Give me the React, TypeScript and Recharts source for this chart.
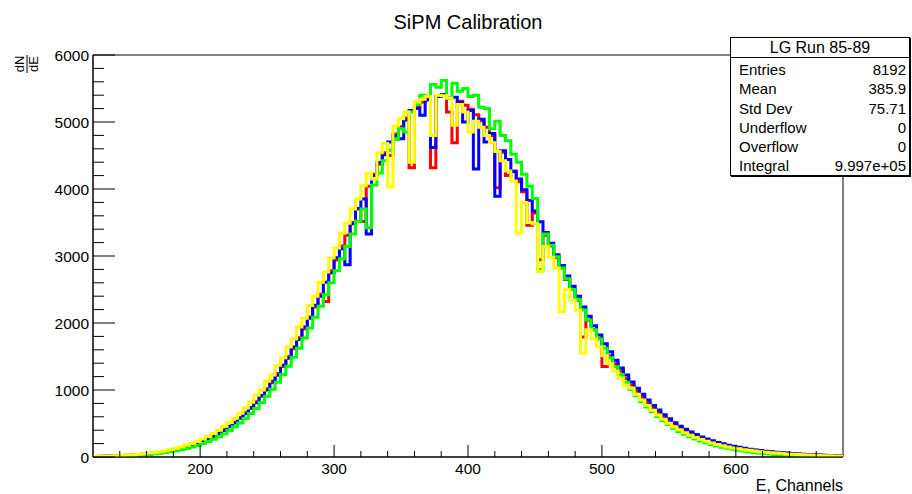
import React from "react";
import { LineChart, Line, XAxis, YAxis, ReferenceArea } from "recharts";

// histogram binning: 4-channel bins from 120 to 680
const binStart = 120;
const binWidth = 4;
const xMax = 680;

const red = [
  7, 10, 11, 13, 16, 20, 23, 29, 34, 40,
  49, 59, 67, 81, 95, 112, 128, 151, 178, 200,
  236, 265, 310, 348, 405, 450, 520, 575, 660, 725,
  825, 905, 1020, 1110, 1245, 1350, 1500, 1615, 1780, 1915,
  2090, 2240, 2430, 2320, 2780, 2940, 3150, 3310, 3500, 3700,
  3515, 4040, 4220, 4370, 4540, 4500, 4820, 4930, 5060, 4316,
  5220, 5300, 5340, 4316, 5390, 5400, 5150, 4690, 5310, 5250,
  5190, 5110, 5020, 4920, 4800, 4020, 4550, 4200, 4270, 4110,
  3960, 3460, 3640, 2945, 3310, 3150, 2975, 2820, 2650, 2500,
  2340, 1790, 2040, 1900, 1770, 1350, 1510, 1390, 1285, 1170,
  1075, 980, 890, 810, 735, 660, 595, 535, 480, 428,
  392, 352, 316, 284, 254, 228, 206, 186, 168, 152,
  138, 124, 112, 101, 92, 83, 75, 67, 61, 55,
  49, 44, 39, 35, 31, 27, 24, 21, 18, 16,
];

const blue = [
  8, 9, 12, 14, 17, 21, 25, 30, 35, 42,
  50, 57, 70, 82, 96, 110, 131, 152, 172, 205,
  230, 272, 303, 356, 396, 460, 508, 585, 645, 740,
  808, 918, 1000, 1130, 1220, 1370, 1475, 1640, 1755, 1940,
  2070, 2265, 2400, 2610, 2750, 2975, 3110, 2870, 3480, 3710,
  3850, 3330, 4200, 4395, 4510, 4700, 4790, 4750, 5030, 5170,
  5200, 5100, 5330, 4620, 5380, 5410, 5360, 5370, 5290, 5000,
  5170, 4300, 5040, 4700, 4830, 3890, 4570, 4440, 4260, 4150,
  3990, 3830, 3670, 3510, 3350, 3190, 3020, 2860, 2700, 2550,
  2400, 2240, 2100, 1960, 1820, 1690, 1570, 1445, 1330, 1225,
  1120, 1025, 935, 850, 770, 700, 630, 570, 510, 458,
  415, 372, 335, 300, 268, 242, 218, 196, 177, 160,
  145, 130, 117, 106, 96, 87, 79, 71, 64, 58,
  52, 46, 41, 36, 32, 28, 25, 22, 19, 17,
];

const green = [
  5, 7, 9, 11, 13, 16, 19, 24, 28, 33,
  40, 47, 56, 66, 79, 92, 108, 127, 148, 172,
  200, 230, 265, 302, 345, 395, 450, 508, 575, 650,
  725, 815, 905, 1010, 1115, 1230, 1355, 1490, 1625, 1775,
  1925, 2085, 2250, 2420, 2600, 2780, 2960, 3140, 3330, 3520,
  3700, 3420, 4060, 4240, 4420, 4580, 4740, 4900, 4850, 5150,
  5260, 5400, 5380, 5560, 5520, 5620, 5350, 5580, 5460, 5500,
  5380, 5400, 5220, 5200, 4900, 5010, 4800, 4720, 4520, 4400,
  4220, 4040, 3860, 2800, 3330, 3160, 2990, 2820, 2660, 2500,
  2350, 2195, 2045, 1900, 1760, 1625, 1480, 1350, 1230, 1115,
  1010, 915, 828, 748, 676, 606, 542, 484, 430, 382,
  340, 303, 270, 240, 213, 188, 166, 147, 130, 114,
  100, 88, 77, 67, 59, 52, 45, 39, 34, 30,
  26, 22, 19, 16, 14, 12, 10, 9, 8, 7,
];

const yellow = [
  9, 11, 13, 16, 20, 24, 28, 34, 41, 48,
  58, 68, 80, 94, 111, 129, 150, 175, 202, 233,
  268, 307, 351, 400, 454, 514, 579, 652, 731, 817,
  920, 1000, 1130, 1225, 1370, 1480, 1640, 1760, 1940, 2070,
  2260, 2400, 2610, 2760, 2970, 3120, 3340, 3490, 3700, 3850,
  4050, 4230, 4150, 4540, 4680, 4030, 4940, 5050, 5150, 4400,
  5300, 5340, 5380, 4800, 5400, 5390, 5360, 4950, 5260, 5150,
  4850, 5010, 4920, 4800, 4690, 4560, 4420, 4270, 4120, 3340,
  3800, 3500, 3480, 2770, 3140, 2980, 2820, 2170, 2500, 2340,
  2190, 1550, 1900, 1765, 1640, 1510, 1390, 1280, 1175, 1070,
  1030, 935, 850, 770, 698, 628, 565, 505, 452, 405,
  362, 325, 292, 262, 234, 210, 188, 168, 151, 136,
  122, 110, 99, 89, 80, 72, 64, 58, 52, 46,
  41, 37, 33, 29, 26, 23, 20, 18, 16, 14,
];

const xMajor = [200, 300, 400, 500, 600];
const xTicks = [140, 160, 180, 200, 220, 240, 260, 280, 300, 320, 340, 360, 380, 400, 420, 440, 460, 480, 500, 520, 540, 560, 580, 600, 620, 640, 660];
const yMajor = [0, 1000, 2000, 3000, 4000, 5000, 6000];
const yTicks = [0, 200, 400, 600, 800, 1000, 1200, 1400, 1600, 1800, 2000, 2200, 2400, 2600, 2800, 3000, 3200, 3400, 3600, 3800, 4000, 4200, 4400, 4600, 4800, 5000, 5200, 5400, 5600, 5800, 6000];

const statsTitle = "LG Run 85-89";
const statsLabels = ["Entries", "Mean", "Std Dev", "Underflow", "Overflow", "Integral"];
const statsValues = ["8192", "385.9", "75.71", "0", "0", "9.997e+05"];

const data = red.map((_, i) => ({
  c: binStart + i * binWidth,
  red: red[i],
  blue: blue[i],
  green: green[i],
  yellow: yellow[i],
}));
// close the last bin so the step reaches the right edge
data.push({ ...data[data.length - 1], c: xMax });

const font = "'Liberation Sans', Arial, Helvetica, sans-serif";

const XTick = ({ x, y, payload }: any) => {
  const major = xMajor.includes(payload.value);
  return (
    <g>
      <line x1={x} x2={x} y1={y} y2={y - (major ? 12 : 6)} stroke="#000" strokeWidth={1} />
      {major && (
        <text x={x} y={y + 17} textAnchor="middle" fontSize={15.5} fontFamily={font} fill="#000">
          {payload.value}
        </text>
      )}
    </g>
  );
};

const YTick = ({ x, y, payload }: any) => {
  const major = yMajor.includes(payload.value);
  return (
    <g>
      <line x1={x} x2={x + (major ? 22 : 11)} y1={y} y2={y} stroke="#000" strokeWidth={1} />
      {major && (
        <text x={x - 4} y={y + 5.5} textAnchor="end" fontSize={15.5} fontFamily={font} fill="#000">
          {payload.value}
        </text>
      )}
    </g>
  );
};

export default function App() {
  return (
    <div style={{ position: "relative", width: 912, height: 494, background: "#fff", fontFamily: font }}>
      <style>{`body { margin: 0; }`}</style>
      <LineChart width={912} height={494} data={data} margin={{ top: 55, right: 69, bottom: 0, left: 33 }}>
        <XAxis
          dataKey="c"
          type="number"
          domain={[binStart, xMax]}
          ticks={xTicks}
          interval={0}
          height={37}
          tickSize={0}
          tickMargin={0}
          tickLine={false}
          axisLine={{ stroke: "#000" }}
          tick={<XTick />}
          allowDataOverflow
        />
        <YAxis
          type="number"
          domain={[0, 6000]}
          ticks={yTicks}
          interval={0}
          width={60}
          tickSize={0}
          tickMargin={0}
          tickLine={false}
          axisLine={{ stroke: "#000" }}
          tick={<YTick />}
          allowDataOverflow
        />
        <ReferenceArea x1={binStart} x2={xMax} y1={0} y2={6000} fill="none" stroke="#000" strokeWidth={1} />
        <Line type="stepAfter" dataKey="red" stroke="#ff0000" strokeWidth={3} dot={false} isAnimationActive={false} />
        <Line type="stepAfter" dataKey="blue" stroke="#0000ff" strokeWidth={3} dot={false} isAnimationActive={false} />
        <Line type="stepAfter" dataKey="green" stroke="#00ff00" strokeWidth={3} dot={false} isAnimationActive={false} />
        <Line type="stepAfter" dataKey="yellow" stroke="#ffff00" strokeWidth={3} dot={false} isAnimationActive={false} />
      </LineChart>

      <svg width={912} height={494} style={{ position: "absolute", left: 0, top: 0, pointerEvents: "none" }}>
        <text x={468} y={29} textAnchor="middle" fontSize={20} fontFamily={font} fill="#000">
          SiPM Calibration
        </text>
        <text x={843} y={491} textAnchor="end" fontSize={16} fontFamily={font} fill="#000">
          E, Channels
        </text>
        <g transform="translate(27, 64) rotate(-90)">
          <text x={0} y={-3} textAnchor="middle" fontSize={13} fontFamily={font} fill="#000">dN</text>
          <line x1={-9} x2={9} y1={0} y2={0} stroke="#000" strokeWidth={1} />
          <text x={0} y={11} textAnchor="middle" fontSize={13} fontFamily={font} fill="#000">dE</text>
        </g>
      </svg>

      <div
        style={{
          position: "absolute",
          left: 730,
          top: 37,
          width: 180,
          height: 139,
          background: "#fff",
          border: "1px solid #000",
          boxShadow: "1px 1px 0 #000",
          fontSize: 15,
          color: "#000",
          boxSizing: "border-box",
        }}
      >
        <div style={{ height: 19, lineHeight: "19px", textAlign: "center", borderBottom: "1px solid #000", fontSize: 16 }}>
          {statsTitle}
        </div>
        <div style={{ paddingTop: 2 }}>
          {statsLabels.map((label, i) => (
            <div
              key={label}
              style={{ display: "flex", justifyContent: "space-between", height: 19.3, lineHeight: "19.3px", padding: "0 3px 0 8px" }}
            >
              <span>{label}</span>
              <span>{statsValues[i]}</span>
            </div>
          ))}
        </div>
      </div>
    </div>
  );
}
